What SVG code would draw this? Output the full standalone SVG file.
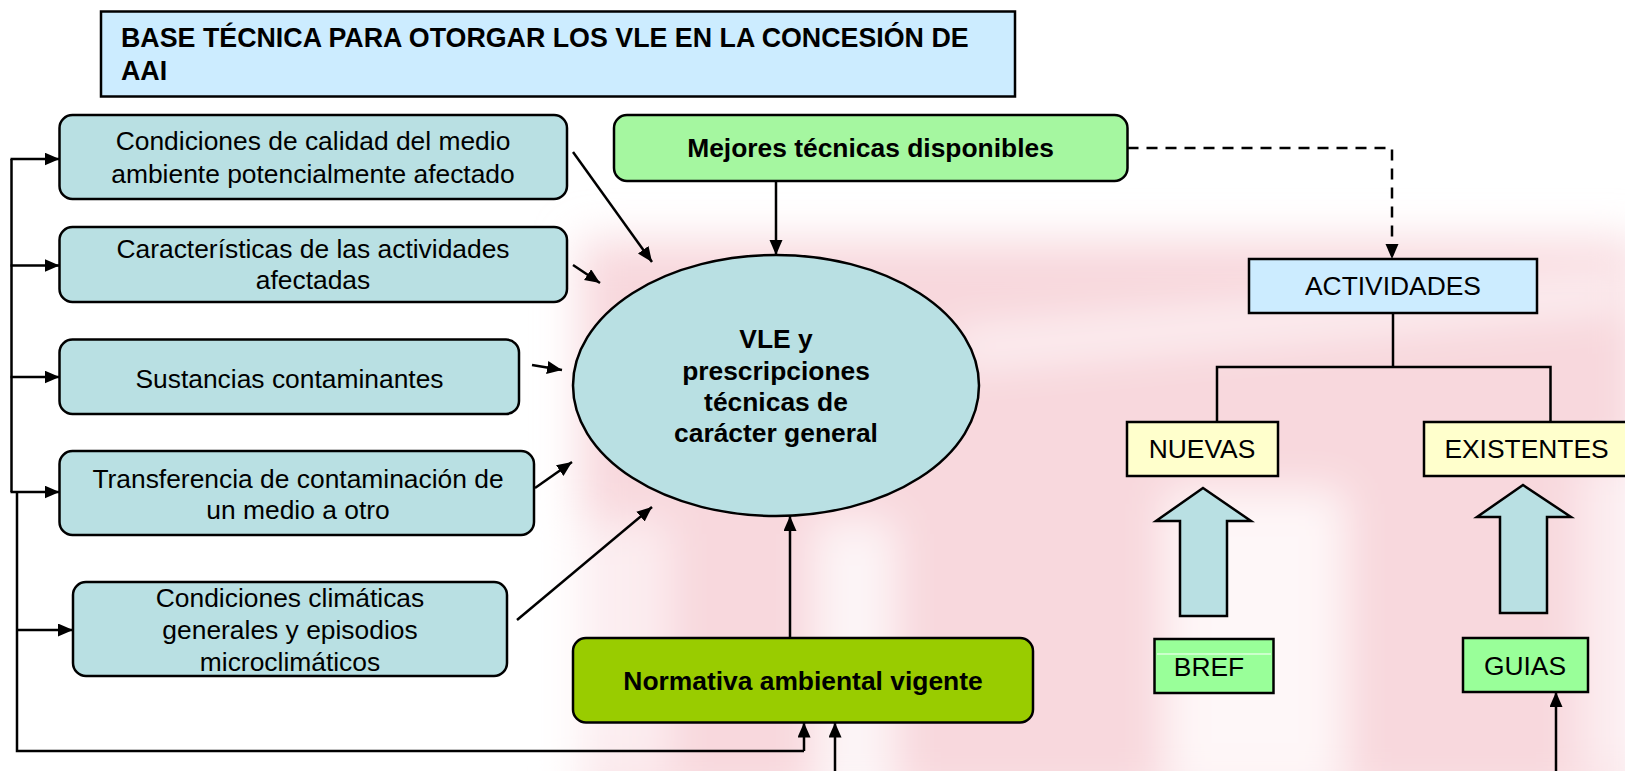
<svg xmlns="http://www.w3.org/2000/svg" width="1625" height="771" viewBox="0 0 1625 771">
<defs>
<filter id="blur" x="-20%" y="-20%" width="140%" height="140%"><feGaussianBlur stdDeviation="22"/></filter>
<marker id="arr" markerUnits="userSpaceOnUse" markerWidth="16" markerHeight="14" refX="15" refY="6.5" orient="auto"><path d="M0,0 L15,6.5 L0,13 z" fill="#000"/></marker>
<style>
text{font-family:"Liberation Sans",Arial,sans-serif;font-size:26.4px;fill:#000}
.b{font-weight:bold}
.m{text-anchor:middle}
.t{font-size:26.8px}
.teal{fill:#b9e0e3;stroke:#000;stroke-width:2.5}
.ln{fill:none;stroke:#000;stroke-width:2.5}
.ar{fill:none;stroke:#000;stroke-width:2.5;marker-end:url(#arr)}
.sq{stroke:#000;stroke-width:2.5}
</style>
</defs>
<rect width="1625" height="771" fill="#fff"/>
<g id="watermark" filter="url(#blur)">
<rect x="580" y="240" width="1060" height="560" fill="#f8d8dd"/>
<rect x="815" y="520" width="80" height="280" fill="#fff" opacity="0.75"/>
<rect x="1165" y="490" width="180" height="300" fill="#fff" opacity="0.8"/>
<rect x="570" y="520" width="100" height="260" fill="#fff" opacity="0.55"/>
<path d="M950,335 L1625,275 L1625,305 L950,365 z" fill="#fff" opacity="0.75"/>
<rect x="1580" y="460" width="60" height="320" fill="#fff" opacity="0.55"/>
</g>
<g id="title">
<rect x="101" y="11.5" width="914" height="85" fill="#ccecff" class="sq"/>
<text class="b t" x="121" y="47">BASE TÉCNICA PARA OTORGAR LOS VLE EN LA CONCESIÓN DE</text>
<text class="b t" x="121" y="80">AAI</text>
</g>
<g id="n-calidad">
<rect class="teal" x="59.5" y="115" width="507.5" height="84" rx="13"/>
<text class="m" x="313" y="150">Condiciones de calidad del medio</text>
<text class="m" x="313" y="182.5">ambiente potencialmente afectado</text>
</g>
<g id="n-caracteristicas">
<rect class="teal" x="59.5" y="227" width="507.5" height="75" rx="13"/>
<text class="m" x="313" y="258">Características de las actividades</text>
<text class="m" x="313" y="289">afectadas</text>
</g>
<g id="n-sustancias">
<rect class="teal" x="59.5" y="339.5" width="459.5" height="74.5" rx="13"/>
<text class="m" x="289.5" y="387.5">Sustancias contaminantes</text>
</g>
<g id="n-transferencia">
<rect class="teal" x="59.5" y="451" width="474.5" height="84" rx="13"/>
<text class="m" x="298" y="488">Transferencia de contaminación de</text>
<text class="m" x="298" y="519">un medio a otro</text>
</g>
<g id="n-climaticas">
<rect class="teal" x="73" y="582" width="434" height="94" rx="13"/>
<text class="m" x="290" y="607">Condiciones climáticas</text>
<text class="m" x="290" y="639">generales y episodios</text>
<text class="m" x="290" y="670.5">microclimáticos</text>
</g>
<g id="n-mejores">
<rect x="614" y="115" width="513.5" height="66" rx="13" fill="#a5f7a0" class="sq"/>
<text class="b m" x="870.5" y="157">Mejores técnicas disponibles</text>
</g>
<g id="n-vle">
<ellipse cx="776" cy="385.5" rx="203" ry="130.5" fill="#b9e0e3" class="sq"/>
<text class="b m" x="776" y="348">VLE y</text>
<text class="b m" x="776" y="380">prescripciones</text>
<text class="b m" x="776" y="411">técnicas de</text>
<text class="b m" x="776" y="442">carácter general</text>
</g>
<g id="n-normativa">
<rect x="573" y="638" width="460" height="84.5" rx="13" fill="#99cc00" class="sq"/>
<text class="b m" x="803" y="690">Normativa ambiental vigente</text>
</g>
<g id="n-actividades">
<rect x="1249" y="259" width="288" height="54" fill="#ccecff" class="sq"/>
<text class="m" x="1393" y="295">ACTIVIDADES</text>
</g>
<g id="n-nuevas">
<rect x="1127" y="422" width="151" height="54" fill="#ffffcc" class="sq"/>
<text class="m" x="1202" y="458">NUEVAS</text>
</g>
<g id="n-existentes">
<rect x="1424" y="422" width="206" height="54" fill="#ffffcc" class="sq"/>
<text class="m" x="1526.5" y="458">EXISTENTES</text>
</g>
<g id="n-arrow-nuevas">
<path d="M1203,488 L1251,521 L1227,521 L1227,616 L1180,616 L1180,521 L1156,521 z" fill="#b9e0e3" class="sq"/>
</g>
<g id="n-arrow-existentes">
<path d="M1523,485 L1571,517 L1547,517 L1547,613 L1500,613 L1500,517 L1477,517 z" fill="#b9e0e3" class="sq"/>
</g>
<g id="n-bref">
<rect x="1154.5" y="639" width="119" height="54" fill="#99ff99" class="sq"/>
<line x1="1157" y1="654" x2="1271" y2="654" stroke="#fff" stroke-width="1"/>
<text class="m" x="1209" y="675.5">BREF</text>
</g>
<g id="n-guias">
<rect x="1463" y="638" width="125" height="54" fill="#99ff99" class="sq"/>
<text class="m" x="1525" y="674.5">GUIAS</text>
</g>
<g id="connectors">
<polyline class="ln" points="11.5,159 11.5,492"/>
<polyline class="ln" points="17,492 17,751 804,751"/>
<line class="ar" x1="10.5" y1="159" x2="59.5" y2="159"/>
<line class="ar" x1="10.5" y1="265.5" x2="59.5" y2="265.5"/>
<line class="ar" x1="10.5" y1="377" x2="59.5" y2="377"/>
<line class="ar" x1="10.5" y1="492" x2="59.5" y2="492"/>
<line class="ar" x1="17" y1="630" x2="73" y2="630"/>
<polyline class="ar" points="804,751 804,722.5"/>
<line class="ar" x1="835" y1="775" x2="835" y2="722.5"/>
<line class="ar" x1="573" y1="152" x2="652" y2="262"/>
<line class="ar" x1="573" y1="265" x2="600" y2="283"/>
<line class="ar" x1="532" y1="365" x2="562" y2="370"/>
<line class="ar" x1="535" y1="488" x2="572" y2="462"/>
<line class="ar" x1="517" y1="620" x2="652" y2="507"/>
<line class="ar" x1="776" y1="181" x2="776" y2="255"/>
<line class="ar" x1="790" y1="638" x2="790" y2="516"/>
<polyline class="ar" points="1127.5,148 1392,148 1392,259" stroke-dasharray="11 8"/>
<polyline class="ln" points="1393,313 1393,367"/>
<polyline class="ln" points="1217,422 1217,367 1550.5,367 1550.5,422"/>
<line class="ar" x1="1556" y1="775" x2="1556" y2="692"/>
</g>
</svg>
